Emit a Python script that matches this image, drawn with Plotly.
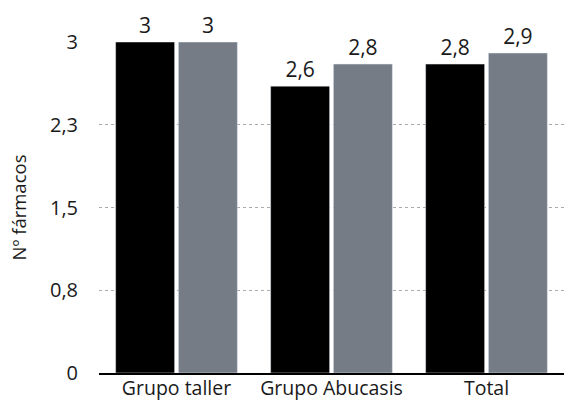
import plotly.graph_objects as go

categories = ["Grupo taller", "Grupo Abucasis", "Total"]
serie_a = [3.0, 2.6, 2.8]
serie_b = [3.0, 2.8, 2.9]
tick_vals = [0, 0.75, 1.5, 2.25, 3]
tick_text = ["0", "0,8", "1,5", "2,3", "3"]

FONT = "Open Sans"
TXT = "#1a1a1a"

fig = go.Figure()
fig.add_trace(go.Bar(x=categories, y=serie_a, marker_color="#000000", name="A",
                     text=serie_a, texttemplate="%{y}", textposition="outside",
                     textfont=dict(size=21, color=TXT, family=FONT), cliponaxis=False))
fig.add_trace(go.Bar(x=categories, y=serie_b, marker_color="#757c85", name="B",
                     text=serie_b, texttemplate="%{y}", textposition="outside",
                     textfont=dict(size=21, color=TXT, family=FONT), cliponaxis=False))

fig.update_layout(
    width=565, height=401,
    margin=dict(l=99, r=1, t=42, b=28),
    paper_bgcolor="white", plot_bgcolor="white",
    barmode="group", bargap=0.19, bargroupgap=0.06,
    showlegend=False, separators=",.",
    font=dict(family=FONT, size=20, color=TXT),
)
fig.update_xaxes(showline=True, linecolor="#000000", linewidth=2, showgrid=False,
                 tickfont=dict(size=19.5, color=TXT), ticks="", automargin=False,
                 ticklabelstandoff=-3)
fig.update_yaxes(range=[0, 3], tickvals=tick_vals, ticktext=tick_text,
                 showgrid=True, gridcolor="#aaaaaa", griddash="3px,3px", gridwidth=1,
                 zeroline=False, showline=False, ticklabelstandoff=20,
                 tickfont=dict(size=20, color=TXT),
                 title=dict(text="Nº fármacos", font=dict(size=18.5, color=TXT), standoff=18))

fig.write_html("out.html")
